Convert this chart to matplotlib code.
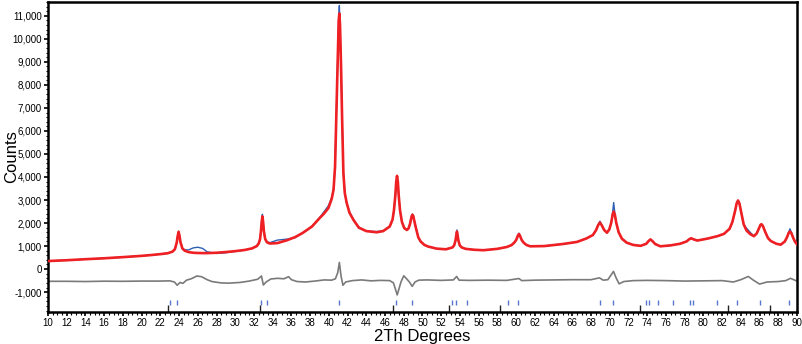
import matplotlib
matplotlib.use("Agg")
import matplotlib.pyplot as plt
from matplotlib.ticker import MultipleLocator, FuncFormatter

plt.rcParams['font.family'] = ['Liberation Sans', 'DejaVu Sans']

# 2-theta grid (degrees)
tth = [10, 12, 14, 16, 18, 20, 21, 22, 22.8,
       23.3, 23.55, 23.75, 23.85, 23.95, 24.05, 24.15, 24.35, 24.6, 25.0,
       25.5, 26, 26.5, 27, 28, 29, 30, 31, 31.8, 32.3,
       32.5, 32.65, 32.75, 32.82, 32.9, 32.98, 33.05, 33.2, 33.4, 33.7,
       34.5, 35.5, 36.4, 37.2, 38.2, 39.0, 39.5, 39.95, 40.3, 40.5,
       40.66, 40.84, 40.95, 41.05, 41.12, 41.19, 41.3, 41.41, 41.55, 41.7, 41.91, 42.2, 42.62,
       43.2, 44, 45.1, 45.8, 46.5,
       46.8, 46.95, 47.1, 47.19, 47.28, 47.37, 47.46, 47.6, 47.8, 48.05, 48.33,
       48.5, 48.66, 48.75, 48.84, 48.93, 49.02, 49.11, 49.3, 49.55, 49.8, 50.2,
       50.6, 51.5, 52.5, 53.2,
       53.38, 53.53, 53.6, 53.68, 53.76, 53.83, 53.98, 54.2, 54.6,
       55.5, 56.5, 58, 59, 59.5,
       59.8, 60.0, 60.2, 60.3, 60.4, 60.6, 60.8, 61.1, 61.5,
       63, 65, 66.5, 67.5,
       68.2, 68.55, 68.75, 68.95, 69.15, 69.4, 69.7, 69.95, 70.15, 70.3, 70.42, 70.55, 70.7, 70.95, 71.3, 71.8, 72.5,
       73.3, 73.9, 74.15, 74.35, 74.55, 74.85, 75.4, 76.5, 77.5, 78.2, 78.5, 78.7, 78.9, 79.35, 80.5, 81.5,
       82.2, 82.8, 83.1, 83.4, 83.55, 83.7, 83.85, 84.0, 84.3, 84.6, 85.0, 85.4, 85.7, 85.95, 86.1, 86.2,
       86.35, 86.6, 86.9, 87.2, 87.8, 88.26, 88.7, 88.95, 89.1, 89.25, 89.4, 89.6, 89.8, 90.0]

# calculated profile (red)
calc = [350, 385, 430, 470, 520, 575, 610, 650, 690,
        760, 860, 1150, 1430, 1620, 1440, 1170, 900, 800, 740,
        710, 700, 695, 695, 710, 740, 780, 830, 900, 1000,
        1110, 1300, 1670, 2040, 2290, 2040, 1670, 1300, 1160, 1110,
        1130, 1250, 1390, 1570, 1850, 2210, 2420, 2650, 3050, 3450,
        4450, 7350, 9300, 10800, 11100, 10600, 8800, 6600, 4170, 3300, 2860, 2450, 2140,
        1800, 1650, 1600, 1650, 1850,
        2150, 2550, 3200, 3780, 4050, 3780, 3200, 2550, 2050, 1780, 1700,
        1760, 1950, 2120, 2300, 2360, 2300, 2120, 1780, 1380, 1200, 1050,
        980, 890, 860, 940,
        1030, 1250, 1450, 1630, 1450, 1250, 1030, 940, 880,
        840, 820, 880, 960, 1040,
        1150, 1260, 1460, 1520, 1460, 1260, 1150, 1050, 990,
        1000, 1090, 1180, 1330,
        1480, 1700, 1900, 2020, 1900, 1700, 1580, 1720, 2000, 2350, 2500, 2350, 2000, 1600, 1320, 1150, 1050,
        1010, 1100, 1220, 1290, 1220, 1090, 990, 1030, 1100, 1200, 1300, 1340, 1300, 1240, 1330, 1430,
        1530, 1750, 2050, 2550, 2850, 2980, 2850, 2550, 1950, 1680, 1520, 1430, 1550, 1780, 1920, 1950,
        1880, 1620, 1350, 1220, 1100, 1060, 1200, 1400, 1560, 1630, 1560, 1350, 1180, 1080]

# observed profile (blue)
obs = [350, 385, 430, 470, 520, 575, 610, 650, 690,
       760, 860, 1150, 1440, 1640, 1440, 1170, 910, 840, 830,
       920, 950, 900, 750, 680, 710, 770, 830, 900, 1000,
       1110, 1300, 1700, 2100, 2380, 2050, 1670, 1300, 1180, 1150,
       1260, 1300, 1370, 1570, 1870, 2230, 2500, 2750, 3100, 3500,
       4450, 7350, 9300, 10900, 11450, 10600, 8800, 6600, 4200, 3300, 2860, 2480, 2150,
       1820, 1650, 1630, 1660, 1850,
       2150, 2550, 3200, 3750, 3950, 3750, 3200, 2550, 2050, 1800, 1700,
       1760, 1950, 2120, 2300, 2390, 2300, 2120, 1780, 1380, 1200, 1050,
       980, 890, 860, 940,
       1030, 1250, 1480, 1700, 1470, 1250, 1030, 940, 880,
       840, 820, 880, 960, 1040,
       1150, 1260, 1480, 1560, 1470, 1260, 1150, 1050, 990,
       1000, 1090, 1180, 1330,
       1480, 1700, 1920, 2080, 1920, 1700, 1580, 1720, 2000, 2450, 2890, 2400, 2000, 1600, 1320, 1150, 1050,
       1010, 1100, 1220, 1290, 1220, 1090, 990, 1030, 1100, 1200, 1300, 1340, 1300, 1240, 1330, 1430,
       1530, 1750, 2050, 2550, 2850, 2980, 2850, 2550, 1950, 1780, 1600, 1430, 1550, 1780, 1920, 1950,
       1880, 1620, 1350, 1220, 1100, 1060, 1200, 1400, 1600, 1750, 1600, 1350, 1180, 1080]

# difference curve (grey, offset)
diff_tth = [10, 12, 14, 16, 18, 20, 22, 23.0, 23.5, 23.8, 24.1, 24.4, 24.8, 25.3, 25.9, 26.4, 27, 27.5, 28.5,
            29.3, 30.5, 31.5, 32.4, 32.8, 33.0, 33.3, 33.8, 34.5, 35.2, 35.7, 36, 36.6, 37.5, 38.5, 39.5, 40.3,
            40.7, 40.95, 41.12, 41.3, 41.5, 41.8, 42.5, 43.5, 44.5, 45.5, 46.5, 46.9, 47.3, 47.7, 48.0, 48.3,
            48.6, 48.9, 49.2, 49.6, 50.5, 52, 53.3, 53.65, 53.9, 55, 57, 59, 60.3, 60.6, 62, 64, 66, 68, 68.9,
            69.3, 69.8, 70.4, 70.7, 71.0, 71.5, 72.5, 74, 76, 78, 80, 82, 83.2, 84, 84.8, 85.3, 86.0, 86.8, 88,
            88.8, 89.3, 89.7, 90]
diff = [-530, -530, -540, -525, -530, -520, -520, -510, -560, -700, -580, -620, -480, -420, -300, -330, -460, -540,
        -600, -610, -580, -520, -440, -300, -690, -560, -430, -400, -420, -330, -460, -540, -560, -520, -470,
        -480, -420, -150, 290, -300, -700, -560, -500, -470, -510, -490, -500, -600, -1120, -560, -290, -420,
        -560, -750, -560, -480, -470, -490, -470, -320, -480, -490, -480, -490, -410, -500, -480, -470, -460,
        -460, -380, -480, -460, -100, -400, -640, -540, -500, -490, -500, -520, -510, -500, -560, -460, -320,
        -470, -650, -560, -540, -500, -400, -470, -520]

# reflection markers
refl_phase1 = [23.0, 23.8, 32.8, 33.4, 41.06, 47.2, 48.85, 53.2, 53.57, 54.75, 59.13, 60.2, 69.0, 70.35,
               73.9, 74.2, 75.2, 76.8, 78.6, 78.9, 81.5, 83.6, 86.1, 89.1]
refl_phase2 = [22.8, 32.6, 46.8, 52.8, 58.3, 73.2, 82.6, 87.1]

assert len(tth) == len(calc) == len(obs)
assert len(diff_tth) == len(diff)

fig = plt.figure(figsize=(8.03, 3.44), dpi=100)
ax = fig.add_axes([48 / 803, 1 - 311.7 / 344, (797 - 48) / 803, (311.7 - 2) / 344])

ax.plot(tth, obs, color='#2f5fb3', lw=1.0, zorder=2)
ax.plot(tth, calc, color='#ee2024', lw=1.9, zorder=3)
ax.plot(diff_tth, diff, color='#7a7a7a', lw=1.2, zorder=2)
ax.vlines(refl_phase1, -1560, -1330, color='#5577cc', lw=1.0, zorder=2)
ax.vlines(refl_phase2, -1850, -1560, color='#222222', lw=1.0, zorder=2)

ax.set_xlim(10, 90)
ax.set_ylim(-1850, 11600)

ax.xaxis.set_major_locator(MultipleLocator(2))
ax.xaxis.set_minor_locator(MultipleLocator(0.5))
ax.yaxis.set_major_locator(MultipleLocator(1000))
ax.yaxis.set_minor_locator(MultipleLocator(200))
ax.yaxis.set_major_formatter(FuncFormatter(lambda v, p: f"{int(v):,}"))

ax.tick_params(axis='both', which='major', direction='out', length=3, width=1.2, labelsize=7, pad=1.5)
ax.tick_params(axis='both', which='minor', direction='out', length=1.8, width=0.8)

for s in ax.spines.values():
    s.set_linewidth(1.8)
    s.set_color('black')

ax.set_xlabel('2Th Degrees', fontsize=12, labelpad=1)
ax.set_ylabel('Counts', fontsize=12)
ax.yaxis.set_label_coords(-0.0385, 0.5)

fig.savefig('out.png', dpi=100)
